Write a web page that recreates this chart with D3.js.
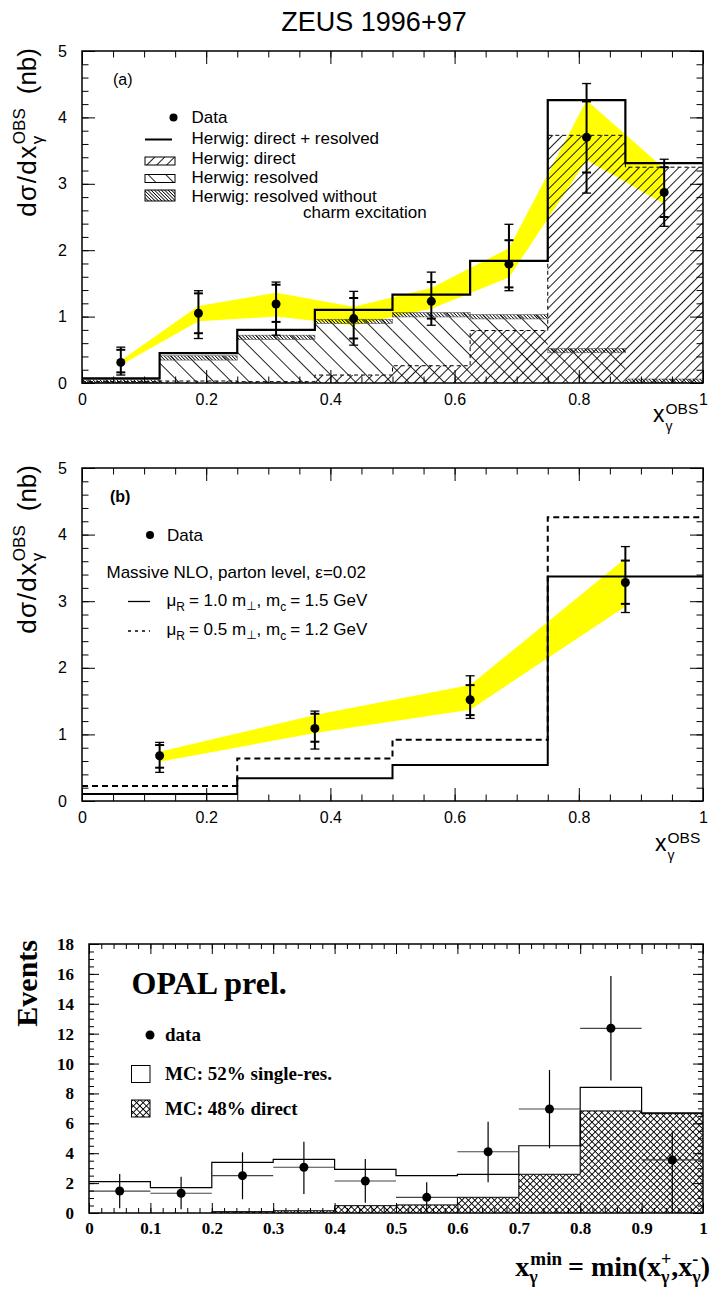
<!DOCTYPE html>
<html>
<head>
<meta charset="utf-8">
<script src="https://cdnjs.cloudflare.com/ajax/libs/d3/7.8.5/d3.min.js"></script>
<style>
  html, body { margin: 0; padding: 0; background: #fff; }
  svg { display: block; }
</style>
</head>
<body>
<svg id="chart" width="713" height="1292"></svg>
<script>
// ---------------- data: panel (a) ZEUS, Herwig comparison ----------------
const binEdgesA      = [0, 0.125, 0.25, 0.375, 0.5, 0.625, 0.75, 0.875, 1];
const herwigTotal    = [0.07, 0.45, 0.80, 1.10, 1.33, 1.84, 4.26, 3.31];
const herwigDirect   = [0.02, 0.03, 0.02, 0.12, 0.26, 0.79, 3.73, 3.25];
const herwigResolved = [0.05, 0.41, 0.72, 0.96, 1.06, 1.03, 0.52, 0.06];
const dataAx         = [0.0625, 0.1875, 0.3125, 0.4375, 0.5625, 0.6875, 0.8125, 0.9375];
const dataAy         = [0.31, 1.05, 1.19, 0.97, 1.23, 1.79, 3.70, 2.87];
const dataAstatHi    = [0.50, 1.35, 1.48, 1.28, 1.52, 2.15, 4.24, 3.25];
const dataAstatLo    = [0.16, 0.75, 0.92, 0.67, 0.97, 1.44, 3.17, 2.50];
const dataAtotHi     = [0.54, 1.39, 1.52, 1.38, 1.67, 2.39, 4.51, 3.37];
const dataAtotLo     = [0.12, 0.67, 0.72, 0.57, 0.87, 1.39, 2.86, 2.36];
const bandAhi        = [0.34, 1.16, 1.36, 1.15, 1.43, 2.03, 4.26, 3.23];
const bandAlo        = [0.27, 0.93, 1.00, 0.87, 1.12, 1.59, 3.36, 2.70];

// ---------------- data: panel (b) ZEUS, massive NLO ----------------
const binEdgesB   = [0, 0.25, 0.5, 0.75, 1];
const nloNominal  = [0.105, 0.34, 0.54, 3.37];   // mu_R = 1.0 m_T, m_c = 1.5 GeV
const nloVaried   = [0.225, 0.64, 0.92, 4.26];   // mu_R = 0.5 m_T, m_c = 1.2 GeV
const dataBx      = [0.125, 0.375, 0.625, 0.875];
const dataBy      = [0.68, 1.09, 1.52, 3.28];
const dataBstatHi = [0.84, 1.31, 1.74, 3.61];
const dataBstatLo = [0.50, 0.89, 1.29, 2.96];
const dataBtotHi  = [0.88, 1.35, 1.88, 3.82];
const dataBtotLo  = [0.43, 0.78, 1.24, 2.83];
const bandBhi     = [0.74, 1.29, 1.74, 3.64];
const bandBlo     = [0.59, 1.02, 1.37, 2.92];

// ---------------- data: OPAL x_gamma^min ----------------
const binEdgesO = [0, 0.1, 0.2, 0.3, 0.4, 0.5, 0.6, 0.7, 0.8, 0.9, 1];
const mcTotal   = [2.10, 1.70, 3.39, 3.59, 2.92, 2.50, 2.59, 4.50, 8.41, 6.70];
const mcDirect  = [0, 0, 0.09, 0.15, 0.49, 0.54, 1.05, 2.59, 6.83, 6.65];
const opalX     = [0.05, 0.15, 0.25, 0.35, 0.45, 0.55, 0.65, 0.75, 0.85, 0.95];
const opalY     = [1.47, 1.32, 2.50, 3.06, 2.14, 1.05, 4.10, 6.96, 12.36, 3.55];
const opalHi    = [2.61, 2.43, 4.06, 4.77, 3.61, 2.05, 6.11, 9.57, 15.86, 5.44];
const opalLo    = [0.31, 0.25, 0.92, 1.27, 0.69, 0.05, 2.05, 4.33, 8.86, 0.00];

// ---------------- tick labels ----------------
const ticksZx = [0, 0.2, 0.4, 0.6, 0.8, 1];
const ticksZy = [0, 1, 2, 3, 4, 5];
const ticksOx = [0, 0.1, 0.2, 0.3, 0.4, 0.5, 0.6, 0.7, 0.8, 0.9, 1];
const ticksOy = [0, 2, 4, 6, 8, 10, 12, 14, 16, 18];

// ---------------- setup ----------------
const SANS  = "'Liberation Sans', Arial, Helvetica, 'DejaVu Sans', sans-serif";
const SERIF = "'Liberation Serif', 'Times New Roman', 'DejaVu Serif', serif";
const YELLOW = "#ffff00";

const svg = d3.select("#chart");
const defs = svg.append("defs");

function hatch(id, spacing, angle, width) {
  const p = defs.append("pattern").attr("id", id)
    .attr("patternUnits", "userSpaceOnUse")
    .attr("width", spacing).attr("height", spacing)
    .attr("patternTransform", `rotate(${angle})`);
  p.append("line").attr("x1", spacing / 2).attr("x2", spacing / 2)
    .attr("y1", -1).attr("y2", spacing + 1)
    .attr("stroke", "#000").attr("stroke-width", width);
}
hatch("hDirect", 7, 45, 0.9);
hatch("hResolved", 12.5, -45, 0.85);
hatch("hDense", 2.4, -45, 0.8);
{
  const s = 4.6;
  const p = defs.append("pattern").attr("id", "hCross")
    .attr("patternUnits", "userSpaceOnUse").attr("width", s).attr("height", s)
    .attr("patternTransform", "rotate(45)");
  p.append("rect").attr("width", s).attr("height", s).attr("fill", "#fff");
  p.append("line").attr("x1", s / 2).attr("x2", s / 2).attr("y1", -1).attr("y2", s + 1)
    .attr("stroke", "#000").attr("stroke-width", 0.95);
  p.append("line").attr("y1", s / 2).attr("y2", s / 2).attr("x1", -1).attr("x2", s + 1)
    .attr("stroke", "#000").attr("stroke-width", 0.95);
}

// Lays out text runs one after another; sub/superscript pairs share a start.
function rich(parent, parts, base) {
  const g = parent.append("g");
  let cx = 0, hold = null;
  parts.forEach(p => {
    const start = (hold ? hold.x : cx) + (p.dx || 0);
    const t = g.append("text")
      .attr("x", start).attr("y", p.dy || 0)
      .attr("font-family", base.family)
      .attr("font-size", p.size || base.size)
      .attr("font-weight", base.weight || "normal")
      .attr("letter-spacing", p.ls || 0)
      .attr("fill", "#000")
      .text(p.t);
    const w = t.node().getComputedTextLength();
    if (p.keep) { hold = { x: start, w }; }
    else { cx = start + Math.max(w, hold ? hold.w - (start - hold.x) : 0); hold = null; }
  });
  return { g, width: cx };
}

function stepPoints(edges, vals) {
  return edges.map((e, i) => [e, vals[Math.min(i, vals.length - 1)]]);
}

function frameAxes(g, x, y, cfg) {
  const [xl, xr] = x.range();
  const [yb, yt] = y.range();
  const style = sel => {
    sel.select(".domain").remove();
    sel.attr("font-family", null).attr("font-size", null);
    sel.selectAll("text").attr("font-family", cfg.family).attr("font-size", cfg.size)
      .attr("font-weight", cfg.weight || "normal").attr("fill", "#000");
    sel.selectAll("line").attr("stroke", "#000").attr("stroke-width", 1);
  };
  // bottom
  g.append("g").attr("transform", `translate(0,${yb})`)
    .call(d3.axisBottom(x).tickValues(cfg.xMinor).tickSize(-cfg.minor).tickFormat("")).call(style);
  g.append("g").attr("transform", `translate(0,${yb})`)
    .call(d3.axisBottom(x).tickValues(cfg.xMajor).tickSize(-cfg.major).tickPadding(cfg.xPad).tickFormat(d => String(d))).call(style);
  // top
  g.append("g").attr("transform", `translate(0,${yt})`)
    .call(d3.axisTop(x).tickValues(cfg.xMinor).tickSize(-cfg.minor).tickFormat("")).call(style);
  g.append("g").attr("transform", `translate(0,${yt})`)
    .call(d3.axisTop(x).tickValues(cfg.xMajor).tickSize(-cfg.major).tickFormat("")).call(style);
  // left
  g.append("g").attr("transform", `translate(${xl},0)`)
    .call(d3.axisLeft(y).tickValues(cfg.yMinor).tickSize(-cfg.minor).tickFormat("")).call(style);
  g.append("g").attr("transform", `translate(${xl},0)`)
    .call(d3.axisLeft(y).tickValues(cfg.yMajor).tickSize(-cfg.major).tickPadding(cfg.yPad).tickFormat(d => String(d))).call(style);
  // right
  g.append("g").attr("transform", `translate(${xr},0)`)
    .call(d3.axisRight(y).tickValues(cfg.yMinor).tickSize(-cfg.minor).tickFormat("")).call(style);
  g.append("g").attr("transform", `translate(${xr},0)`)
    .call(d3.axisRight(y).tickValues(cfg.yMajor).tickSize(-cfg.major).tickFormat("")).call(style);
  // frame
  g.append("rect").attr("x", xl).attr("y", yt).attr("width", xr - xl).attr("height", yb - yt)
    .attr("fill", "none").attr("stroke", "#000").attr("stroke-width", cfg.frame || 1.5);
}

function zeusErrors(g, x, y, xs, ys, sHi, sLo, tHi, tLo) {
  const idx = d3.range(xs.length);
  const cap = 4.5;
  g.selectAll(null).data(idx).join("line")
    .attr("x1", i => x(xs[i])).attr("x2", i => x(xs[i]))
    .attr("y1", i => y(tLo[i])).attr("y2", i => y(tHi[i]))
    .attr("stroke", "#000").attr("stroke-width", 2);
  [[tHi, 1.3], [tLo, 1.3], [sHi, 2], [sLo, 2]].forEach(([arr, w]) => {
    g.selectAll(null).data(idx).join("line")
      .attr("x1", i => x(xs[i]) - cap).attr("x2", i => x(xs[i]) + cap)
      .attr("y1", i => y(arr[i])).attr("y2", i => y(arr[i]))
      .attr("stroke", "#000").attr("stroke-width", w);
  });
  g.selectAll(null).data(idx).join("circle")
    .attr("cx", i => x(xs[i])).attr("cy", i => y(ys[i])).attr("r", 4.5).attr("fill", "#000");
}

function band(g, x, y, xs, hi, lo) {
  const area = d3.area().x(i => x(xs[i])).y0(i => y(lo[i])).y1(i => y(hi[i]));
  g.append("path").attr("d", area(d3.range(xs.length))).attr("fill", YELLOW);
}

function xgammaLabel(parent, x, y) {
  const r = rich(parent, [
    { t: "x", size: 23 },
    { t: "γ", size: 14, dy: 9, keep: true, dx: 1 },
    { t: "OBS", size: 15.5, dy: -8 }
  ], { family: SANS, size: 23 });
  r.g.attr("transform", `translate(${x},${y})`);
}

function zeusYLabel(parent, x, yTop) {
  const r = rich(parent, [
    { t: "dσ/dx", size: 26, ls: 1.5 },
    { t: "γ", size: 17, dy: 7, keep: true, dx: 0 },
    { t: "OBS", size: 17, dy: -11 },
    { t: "(nb)", size: 26, dx: 14 }
  ], { family: SANS, size: 26 });
  r.g.attr("transform", `translate(${x},${yTop}) rotate(-90) translate(${-r.width},0)`);
}

const zeusAxisCfg = {
  xMajor: ticksZx, xMinor: d3.range(0, 1.0001, 0.05),
  yMajor: ticksZy, yMinor: d3.range(0, 5.0001, 0.2),
  major: 13, minor: 6.5, xPad: 11, yPad: 15,
  family: SANS, size: 16
};

// ---------------- title ----------------
svg.append("text").attr("x", 374).attr("y", 30.5).attr("text-anchor", "middle")
  .attr("font-family", SANS).attr("font-size", 27).text("ZEUS 1996+97");

// ================= panel (a) =================
{
  const x = d3.scaleLinear().domain([0, 1]).range([82, 703]);
  const y = d3.scaleLinear().domain([0, 5]).range([383, 51]);
  const g = svg.append("g");
  const bins = d3.range(herwigTotal.length);
  const bx = i => x(binEdgesA[i]);
  const bw = i => x(binEdgesA[i + 1]) - x(binEdgesA[i]);

  band(g, x, y, dataAx, bandAhi, bandAlo);

  // resolved contribution
  g.selectAll(null).data(bins).join("rect")
    .attr("x", bx).attr("width", bw)
    .attr("y", i => y(herwigResolved[i])).attr("height", i => y(0) - y(herwigResolved[i]))
    .attr("fill", "url(#hResolved)");
  // direct contribution
  g.selectAll(null).data(bins).join("rect")
    .attr("x", bx).attr("width", bw)
    .attr("y", i => y(herwigDirect[i])).attr("height", i => y(0) - y(herwigDirect[i]))
    .attr("fill", "url(#hDirect)");
  // resolved without charm excitation: thin band on the resolved edge
  const stripH = 0.065;
  g.selectAll(null).data(bins).join("rect")
    .attr("x", bx).attr("width", bw)
    .attr("y", i => y(herwigResolved[i]))
    .attr("height", i => y(Math.max(0, herwigResolved[i] - stripH)) - y(herwigResolved[i]))
    .attr("fill", "url(#hDense)").attr("stroke", "#555").attr("stroke-width", 0.6);

  const step = d3.line().x(d => x(d[0])).y(d => y(d[1])).curve(d3.curveStepAfter);
  g.append("path").attr("d", step(stepPoints(binEdgesA, herwigDirect)))
    .attr("fill", "none").attr("stroke", "#000").attr("stroke-width", 1).attr("stroke-dasharray", "4,3");
  g.append("path").attr("d", step(stepPoints(binEdgesA, herwigTotal)))
    .attr("fill", "none").attr("stroke", "#000").attr("stroke-width", 2.2);

  zeusErrors(g, x, y, dataAx, dataAy, dataAstatHi, dataAstatLo, dataAtotHi, dataAtotLo);
  frameAxes(g, x, y, zeusAxisCfg);

  // legend
  const L = svg.append("g").attr("font-family", SANS).attr("font-size", 17);
  L.append("text").attr("x", 113).attr("y", 85).attr("font-size", 16).text("(a)");
  L.append("circle").attr("cx", 173.5).attr("cy", 117.5).attr("r", 4).attr("fill", "#000");
  L.append("text").attr("x", 191.5).attr("y", 123).text("Data");
  L.append("line").attr("x1", 145).attr("x2", 172).attr("y1", 139.5).attr("y2", 139.5)
    .attr("stroke", "#000").attr("stroke-width", 2);
  L.append("text").attr("x", 191.5).attr("y", 144).text("Herwig: direct + resolved");
  L.append("rect").attr("x", 145).attr("y", 157).attr("width", 30).attr("height", 8)
    .attr("fill", "url(#hDirect)").attr("stroke", "#000").attr("stroke-width", 1);
  L.append("text").attr("x", 191.5).attr("y", 164).text("Herwig: direct");
  L.append("rect").attr("x", 145).attr("y", 174.5).attr("width", 30).attr("height", 8)
    .attr("fill", "url(#hResolved)").attr("stroke", "#000").attr("stroke-width", 1);
  L.append("text").attr("x", 191.5).attr("y", 183).text("Herwig: resolved");
  L.append("rect").attr("x", 145).attr("y", 190).attr("width", 30).attr("height", 11)
    .attr("fill", "url(#hDense)").attr("stroke", "#000").attr("stroke-width", 1);
  L.append("text").attr("x", 191.5).attr("y", 201.5).text("Herwig: resolved without");
  L.append("text").attr("x", 303).attr("y", 218).text("charm excitation");

  zeusYLabel(svg, 36, 48);
  xgammaLabel(svg, 653, 422);
}

// ================= panel (b) =================
{
  const x = d3.scaleLinear().domain([0, 1]).range([82, 703]);
  const y = d3.scaleLinear().domain([0, 5]).range([801, 468]);
  const g = svg.append("g");

  band(g, x, y, dataBx, bandBhi, bandBlo);

  const step = d3.line().x(d => x(d[0])).y(d => y(d[1])).curve(d3.curveStepAfter);
  g.append("path").attr("d", step(stepPoints(binEdgesB, nloVaried)))
    .attr("fill", "none").attr("stroke", "#000").attr("stroke-width", 2).attr("stroke-dasharray", "6,4");
  g.append("path").attr("d", step(stepPoints(binEdgesB, nloNominal)))
    .attr("fill", "none").attr("stroke", "#000").attr("stroke-width", 2);

  zeusErrors(g, x, y, dataBx, dataBy, dataBstatHi, dataBstatLo, dataBtotHi, dataBtotLo);
  frameAxes(g, x, y, zeusAxisCfg);

  const L = svg.append("g").attr("font-family", SANS).attr("font-size", 17);
  L.append("text").attr("x", 110).attr("y", 502).attr("font-weight", "bold").attr("font-size", 16).text("(b)");
  L.append("circle").attr("cx", 150).attr("cy", 535).attr("r", 4).attr("fill", "#000");
  L.append("text").attr("x", 167).attr("y", 540.5).text("Data");
  L.append("text").attr("x", 106.5).attr("y", 578).text("Massive NLO, parton level, ε=0.02");
  L.append("line").attr("x1", 128).attr("x2", 150).attr("y1", 601.5).attr("y2", 601.5)
    .attr("stroke", "#000").attr("stroke-width", 1.3);
  L.append("line").attr("x1", 128).attr("x2", 150).attr("y1", 631).attr("y2", 631)
    .attr("stroke", "#000").attr("stroke-width", 1.3).attr("stroke-dasharray", "3,4");

  const muLine = (nom, mc, yb) => {
    const r = rich(L, [
      { t: "μ", size: 17 },
      { t: "R", size: 12, dy: 5 },
      { t: "= " + nom + " m", size: 17, dx: 4 },
      { t: "⊥", size: 12, dy: 4 },
      { t: ", m", size: 17 },
      { t: "c", size: 12, dy: 5 },
      { t: "= " + mc + " GeV", size: 17, dx: 4 }
    ], { family: SANS, size: 17 });
    r.g.attr("transform", `translate(166.5,${yb})`);
  };
  muLine("1.0", "1.5", 606);
  muLine("0.5", "1.2", 635);

  zeusYLabel(svg, 36, 465);
  xgammaLabel(svg, 655, 851);
}

// ================= OPAL =================
{
  const x = d3.scaleLinear().domain([0, 1]).range([89, 703]);
  const y = d3.scaleLinear().domain([0, 18]).range([1213, 944]);
  const g = svg.append("g");
  const bins = d3.range(mcDirect.length);

  g.selectAll(null).data(bins.filter(i => mcDirect[i] > 0)).join("rect")
    .attr("x", i => x(binEdgesO[i])).attr("width", i => x(binEdgesO[i + 1]) - x(binEdgesO[i]))
    .attr("y", i => y(mcDirect[i])).attr("height", i => y(0) - y(mcDirect[i]))
    .attr("fill", "url(#hCross)");
  const step = d3.line().x(d => x(d[0])).y(d => y(d[1])).curve(d3.curveStepAfter);
  const directPts = stepPoints(binEdgesO, mcDirect);
  g.append("path").attr("d", step([[0.2, 0], ...directPts.slice(2)]))
    .attr("fill", "none").attr("stroke", "#000").attr("stroke-width", 1);
  g.append("path").attr("d", step(stepPoints(binEdgesO, mcTotal)))
    .attr("fill", "none").attr("stroke", "#000").attr("stroke-width", 1.2);

  const idx = d3.range(opalX.length);
  g.selectAll(null).data(idx).join("line")
    .attr("x1", i => x(opalX[i] - 0.05)).attr("x2", i => x(opalX[i] + 0.05))
    .attr("y1", i => y(opalY[i])).attr("y2", i => y(opalY[i]))
    .attr("stroke", "#444").attr("stroke-width", 1.2);
  g.selectAll(null).data(idx).join("line")
    .attr("x1", i => x(opalX[i])).attr("x2", i => x(opalX[i]))
    .attr("y1", i => y(opalLo[i])).attr("y2", i => y(opalHi[i]))
    .attr("stroke", "#000").attr("stroke-width", 1.2);
  g.selectAll(null).data(idx).join("circle")
    .attr("cx", i => x(opalX[i])).attr("cy", i => y(opalY[i])).attr("r", 4.5).attr("fill", "#000");

  frameAxes(g, x, y, {
    xMajor: ticksOx, xMinor: d3.range(0, 1.0001, 0.02),
    yMajor: ticksOy, yMinor: d3.range(0, 18.0001, 0.5),
    major: 10, minor: 5, xPad: 9, yPad: 15,
    family: SERIF, size: 17, weight: "bold", frame: 1.5
  });

  const L = svg.append("g").attr("font-family", SERIF).attr("font-weight", "bold");
  L.append("text").attr("x", 131.5).attr("y", 994).attr("font-size", 32).text("OPAL prel.");
  L.append("circle").attr("cx", 150).attr("cy", 1035).attr("r", 4.5).attr("fill", "#000");
  L.append("text").attr("x", 165).attr("y", 1041).attr("font-size", 19).text("data");
  L.append("rect").attr("x", 131.5).attr("y", 1065.5).attr("width", 18.5).attr("height", 17)
    .attr("fill", "#fff").attr("stroke", "#000").attr("stroke-width", 1);
  L.append("text").attr("x", 165).attr("y", 1080).attr("font-size", 19).text("MC: 52% single-res.");
  L.append("rect").attr("x", 131.5).attr("y", 1100).attr("width", 18.5).attr("height", 17)
    .attr("fill", "url(#hCross)").attr("stroke", "#000").attr("stroke-width", 1);
  L.append("text").attr("x", 165).attr("y", 1115).attr("font-size", 19).text("MC: 48% direct");

  // y title
  const ev = rich(svg, [{ t: "Events", size: 30 }], { family: SERIF, size: 30, weight: "bold" });
  ev.g.attr("transform", `translate(37,940) rotate(-90) translate(${-ev.width},0)`);

  // x title
  const xt = rich(svg, [
    { t: "x", size: 28 },
    { t: "γ", size: 18, dy: 7, keep: true },
    { t: "min", size: 19, dy: -11, dx: 1 },
    { t: "= min(", size: 28, dx: 6 },
    { t: "x", size: 28 },
    { t: "γ", size: 18, dy: 7, keep: true },
    { t: "+", size: 18, dy: -11 },
    { t: ",", size: 28 },
    { t: "x", size: 28 },
    { t: "γ", size: 18, dy: 7, keep: true },
    { t: "-", size: 18, dy: -11 },
    { t: ")", size: 28 }
  ], { family: SERIF, size: 28, weight: "bold" });
  xt.g.attr("transform", `translate(${710 - xt.width},1276)`);
}
</script>
</body>
</html>
